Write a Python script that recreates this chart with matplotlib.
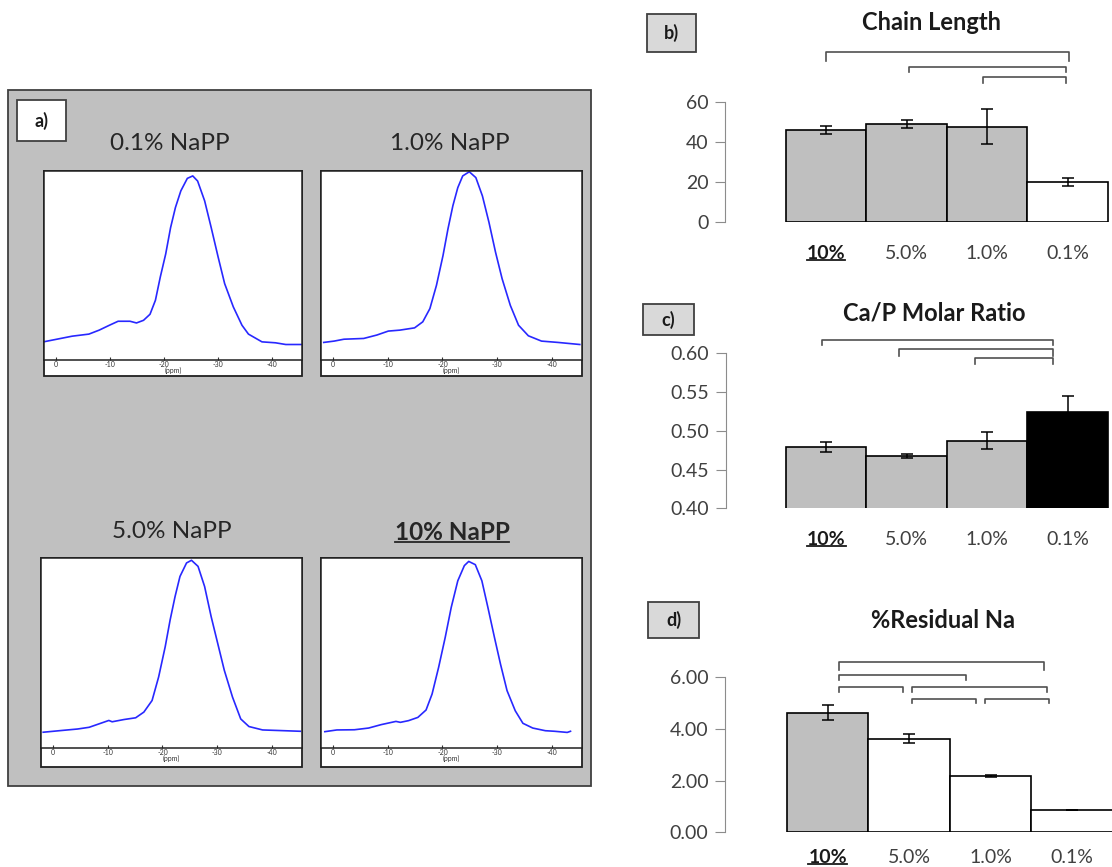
import matplotlib.pyplot as plt
from matplotlib.patches import Rectangle
from matplotlib.lines import Line2D

plt.rcParams['font.family'] = ['Lato', 'DejaVu Sans']

W, H = 1112, 867

# 31P NMR spectra, chemical shift (ppm) and normalised intensity
ppm_01 = [2.3, 0.0, -3.0, -6.1, -8.0, -9.9, -11.5, -13.7, -14.9, -16.2, -17.4, -18.4, -19.3, -20.3,
          -21.2, -22.1, -23.1, -24.3, -25.3, -26.2, -27.5, -28.7, -30.0, -31.2, -32.8, -34.4,
          -35.6, -38.1, -40.6, -42.5, -46.0]
int_01 = [0.096, 0.109, 0.126, 0.137, 0.158, 0.184, 0.205, 0.205, 0.196, 0.21, 0.242, 0.316, 0.439,
          0.561, 0.70, 0.807, 0.895, 0.961, 0.974, 0.947, 0.842, 0.702, 0.544, 0.404, 0.281, 0.184,
          0.137, 0.096, 0.091, 0.082, 0.082]

ppm_10 = [1.7, -0.2, -2.0, -5.6, -8.0, -10.1, -12.2, -14.9, -16.4, -17.7, -18.9, -20.1, -21.0,
          -21.9, -22.8, -23.7, -24.9, -26.1, -27.3, -28.5, -29.7, -30.9, -32.4, -33.9, -35.7,
          -38.1, -41.1, -45.1]
int_10 = [0.093, 0.10, 0.11, 0.114, 0.132, 0.153, 0.158, 0.17, 0.202, 0.272, 0.395, 0.553, 0.693,
          0.816, 0.912, 0.974, 0.996, 0.965, 0.868, 0.728, 0.57, 0.43, 0.289, 0.184, 0.128, 0.10,
          0.093, 0.082]

ppm_50 = [1.8, -1.5, -4.5, -6.6, -8.4, -10.2, -10.8, -13.0, -15.1, -16.6, -18.1, -19.3, -20.5,
          -21.4, -22.3, -23.2, -24.4, -25.3, -26.5, -27.7, -28.9, -30.1, -31.3, -32.8, -34.3,
          -35.8, -38.3, -41.3, -45.2]
int_50 = [0.083, 0.092, 0.10, 0.109, 0.127, 0.145, 0.138, 0.15, 0.159, 0.189, 0.25, 0.374, 0.533,
          0.674, 0.797, 0.903, 0.974, 0.988, 0.956, 0.85, 0.691, 0.55, 0.409, 0.268, 0.153, 0.113,
          0.095, 0.092, 0.088]

ppm_100 = [1.5, -0.7, -3.9, -6.5, -8.8, -11.5, -12.3, -13.8, -15.5, -17.0, -18.1, -19.3, -20.5,
           -21.6, -22.8, -24.0, -24.8, -26.0, -27.2, -28.3, -29.5, -30.6, -31.8, -33.3, -34.7,
           -36.5, -38.8, -40.5, -42.8, -43.4]
int_100 = [0.086, 0.095, 0.096, 0.105, 0.123, 0.14, 0.135, 0.144, 0.161, 0.20, 0.284, 0.425, 0.582,
           0.74, 0.88, 0.96, 0.982, 0.965, 0.88, 0.74, 0.582, 0.442, 0.302, 0.196, 0.13, 0.105,
           0.091, 0.088, 0.082, 0.088]

spectrum_titles = ['0.1% NaPP', '1.0% NaPP', '5.0% NaPP', '10% NaPP']
ppm_ticks = [0, -10, -20, -30, -40]

# bar panels
groups = ['10%', '5.0%', '1.0%', '0.1%']
chain_length = [45.9, 48.9, 47.6, 19.9]
chain_length_err = [2.0, 1.9, 8.7, 1.9]
ca_p_ratio = [0.479, 0.4675, 0.4873, 0.5243]
ca_p_ratio_err = [0.0065, 0.002, 0.011, 0.02]
residual_na = [4.63, 3.62, 2.17, 0.86]
residual_na_err = [0.30, 0.18, 0.03, 0.0]

GREY = '#BFBFBF'


def fbox(x0, y0, x1, y1):
    return [x0 / W, 1 - y1 / H, (x1 - x0) / W, (y1 - y0) / H]


def frect(x0, y0, x1, y1, **kw):
    r = Rectangle((x0 / W, 1 - y1 / H), (x1 - x0) / W, (y1 - y0) / H,
                  transform=fig.transFigure, **kw)
    fig.add_artist(r)
    return r


def label_box(x0, y0, x1, y1, text, fc):
    frect(x0, y0, x1, y1, fc=fc, ec='#404040', lw=1.3, zorder=1)
    fig.text((x0 + x1) / 2 / W, 1 - (y0 + y1) / 2 / H, text, ha='center', va='center',
             fontsize=13, fontweight='bold', color='#1a1a1a')


fig = plt.figure(figsize=(W / 100, H / 100), dpi=100)
fig.patch.set_facecolor('white')

underlined = []

# ---- a) NMR spectra ----
frect(8, 90, 591, 786, fc='#C0C0C0', ec='#404040', lw=1.3, zorder=-2)
label_box(17, 100, 66, 141, 'a)', 'white')

spectra = [(ppm_01, int_01), (ppm_10, int_10), (ppm_50, int_50), (ppm_100, int_100)]
frames = [(44, 171, 302, 360, 376), (321, 171, 582, 360, 376),
          (41, 558, 302, 748, 767), (321, 558, 582, 748, 767)]
title_pos = [(170, 144), (450, 144), (172, 532), (452, 532)]

for (ppm, inten), (x0, y0, x1, yax, y1), title, (tx, ty) in zip(spectra, frames, spectrum_titles, title_pos):
    frect(x0, y0, x1, y1, fc='white', ec='#202020', lw=1.3, zorder=-1)
    ax = fig.add_axes(fbox(x0, y0, x1, yax))
    ax.plot(ppm, inten, color='#2828FF', lw=1.2)
    ax.set_xlim(2.2, -45.5)
    ax.set_ylim(0, 1)
    ax.set_yticks([])
    ax.set_xticks(ppm_ticks)
    ax.set_xticklabels([str(t) for t in ppm_ticks])
    ax.tick_params(axis='x', direction='in', length=2, labelsize=5, pad=1, colors='#333333')
    ax.set_xlabel('(ppm)', fontsize=5, labelpad=-1, color='#333333')
    for s in ax.spines.values():
        s.set_color('#202020')
        s.set_linewidth(1.1)
    bold = title.startswith('10%')
    t = fig.text(tx / W, 1 - ty / H, title, ha='center', va='center', fontsize=17.5,
                 fontweight='bold' if bold else 'normal', color='#262626')
    if bold:
        underlined.append(t)


# ---- b), c), d) bar charts ----
def bar_panel(rect, xlim, values, errors, colors, ylim, yticks, fmt, title, title_xy,
              letter, letter_rect, brackets, pad):
    ax = fig.add_axes(fbox(*rect))
    x = range(len(values))
    ax.bar(x, values, width=1.0, color=colors, edgecolor='black', linewidth=1.2, zorder=2)
    ax.errorbar(x, values, yerr=errors, fmt='none', ecolor='black', elinewidth=1.1,
                capsize=4, capthick=1.1, zorder=3)
    ax.set_xlim(*xlim)
    ax.set_ylim(*ylim)
    ax.set_yticks(yticks)
    ax.set_yticklabels([fmt.format(v) for v in yticks])
    ax.set_xticks(list(x))
    ax.set_xticklabels(groups)
    for s in ['top', 'right', 'bottom']:
        ax.spines[s].set_visible(False)
    ax.spines['left'].set_color('#8C8C8C')
    ax.tick_params(axis='y', length=7, color='#8C8C8C', labelsize=14, labelcolor='#404040', pad=5)
    ax.tick_params(axis='x', length=0, labelsize=14, labelcolor='#404040', pad=pad)
    ax.set_facecolor('none')
    first = ax.get_xticklabels()[0]
    first.set_fontweight('bold')
    first.set_color('#1a1a1a')
    underlined.append(first)
    for xa, xb, ytop, ybot in brackets:
        ax.plot([xa, xa, xb, xb], [ybot, ytop, ytop, ybot], color='#505050', lw=1.2,
                clip_on=False, zorder=4)
    fig.text(title_xy[0] / W, 1 - title_xy[1] / H, title, ha='center', va='center',
             fontsize=17, fontweight='bold', color='#1a1a1a')
    label_box(*letter_rect, letter, '#D9D9D9')
    return ax


bar_panel((725, 101.7, 1112, 222.3), (-1.255, 3.55), chain_length, chain_length_err,
          [GREY, GREY, GREY, 'white'], (0, 60), [0, 20, 40, 60], '{:.0f}',
          'Chain Length', (932, 22), 'b)', (647, 14, 696, 52),
          [(0.0, 3.02, 84.6, 80.2), (1.03, 2.98, 77.4, 74.9), (1.95, 2.98, 72.1, 69.2)], 16)

bar_panel((726, 353.3, 1112, 508.3), (-1.245, 3.55), ca_p_ratio, ca_p_ratio_err,
          [GREY, GREY, GREY, 'black'], (0.40, 0.60), [0.40, 0.45, 0.50, 0.55, 0.60], '{:.2f}',
          'Ca/P Molar Ratio', (934, 313), 'c)', (643, 304, 694, 335),
          [(-0.05, 2.82, 0.617, 0.611), (0.90, 2.82, 0.605, 0.597), (1.85, 2.82, 0.5936, 0.586)], 16)

bar_panel((725, 677.3, 1112, 832.3), (-1.26, 3.49), residual_na, residual_na_err,
          [GREY, 'white', 'white', 'white'], (0, 6), [0, 2, 4, 6], '{:.2f}',
          '%Residual Na', (943, 620), 'd)', (648, 602, 699, 638),
          [(0.135, 2.65, 6.60, 6.28), (0.135, 1.70, 6.09, 5.90), (0.135, 0.92, 5.64, 5.44),
           (1.04, 2.69, 5.64, 5.44), (1.04, 1.82, 5.17, 4.99), (1.93, 2.72, 5.17, 4.99)], 12)

# underline the 10% labels
fig.canvas.draw()
renderer = fig.canvas.get_renderer()
for t in underlined:
    bb = t.get_window_extent(renderer=renderer)
    y = bb.y0 + 2
    fig.add_artist(Line2D([bb.x0 / W, bb.x1 / W], [y / H, y / H], transform=fig.transFigure,
                          color=t.get_color(), lw=1.3))

fig.savefig('out.png', dpi=100)
